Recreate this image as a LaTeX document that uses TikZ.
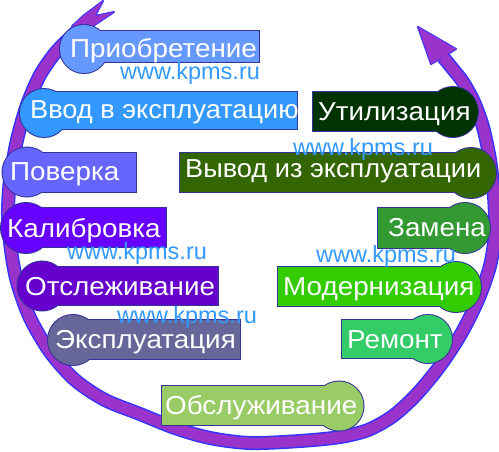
\documentclass[tikz,border=0pt]{standalone}
\usepackage{fontspec}
\setmainfont{Liberation Sans}
\newfontfamily\lblfont{Liberation Sans}[FakeStretch=1.07]
\newfontfamily\lblfontn{Liberation Sans}[FakeStretch=1.045]
\definecolor{bord}{HTML}{333399}
\definecolor{ringp}{HTML}{9933CC}
\definecolor{ringb}{HTML}{3333FF}
\definecolor{wmblue}{HTML}{3399FF}
\definecolor{cA}{HTML}{6699FF}
\definecolor{cB}{HTML}{3399FF}
\definecolor{cC}{HTML}{6666FF}
\definecolor{cD}{HTML}{6600FF}
\definecolor{cE}{HTML}{6600CC}
\definecolor{cF}{HTML}{666699}
\definecolor{cG}{HTML}{99CC66}
\definecolor{cH}{HTML}{33CC66}
\definecolor{cI}{HTML}{33CC00}
\definecolor{cJ}{HTML}{339933}
\definecolor{cK}{HTML}{336600}
\definecolor{cL}{HTML}{003300}
\newcommand\plabel[8]{%
  \draw[bord, line width=2pt] (#2,#3) rectangle (#4,#5);
  \draw[bord, line width=2pt] (#6,#7) circle[radius=#8pt];
  \fill[#1] (#2,#3) rectangle (#4,#5);
  \fill[#1] (#6,#7) circle[radius=#8pt];
}
\newcommand\ringpath{plot[smooth, tension=0.5] coordinates {(88,21) (74,34) (56,52) (40,75) (27,105) (17,140) (10,180) (8,215) (11,250) (17,282) (30,318) (50,352) (75,380) (105,400) (140,414) (175,428) (210,438) (250,443) (300,441) (340,437) (368,430) (393,416) (416,395) (440,366) (461,334) (478,300) (490,266) (495,232) (494,196) (490,160) (483,127) (474,102) (463,82) (452,68) (443,57)}}
\newcommand\tailpath{(72.2,26.1) -- (83.2,15.9) -- (103,1) -- (95,16) -- (114,12) -- (92.8,26.1) -- (81.8,36.3) -- cycle}
\newcommand\headpath{(443,57) -- (431,64) -- (418,27) -- (456,49) -- cycle}
\begin{document}
\begin{tikzpicture}[x=1pt, y=-1pt,
  lbl/.style={text=white, inner sep=0pt, anchor=base west, font=\lblfont\fontsize{26}{26}\selectfont},
  lbln/.style={lbl, font=\lblfontn\fontsize{26}{26}\selectfont},
  wm/.style={text=wmblue, inner sep=0pt, anchor=base west, font=\fontsize{23.5}{23.5}\selectfont}]
\useasboundingbox[fill=white] (0,0) rectangle (499,451);
% ring: outline layer
\draw[ringb, line width=14pt, line join=round] \ringpath;
\filldraw[ringb, line width=2pt, line join=round] \tailpath;
\filldraw[ringb, line width=2pt, line join=round] \headpath;
% ring: fill layer
\draw[ringp, line width=11pt, line join=round] \ringpath;
\fill[ringp] \tailpath;
\fill[ringp] \headpath;
% label boxes
\plabel{cA}{84}{31}{259}{62}{84}{49}{24}
\plabel{cB}{44}{92}{297}{129}{44}{113}{24}
\plabel{cC}{27}{153}{136}{192}{27}{172}{24.5}
\plabel{cD}{26}{208}{166}{247}{26}{228}{25}
\plabel{cE}{42}{267}{218}{305}{42}{286}{24.5}
\plabel{cF}{73}{320}{240}{359}{73}{340}{25}
\plabel{cG}{162}{386}{339}{425}{339}{406}{24.5}
\plabel{cH}{342}{320}{428}{358}{428}{339}{24}
\plabel{cI}{278}{267}{456}{306}{456}{287}{25}
\plabel{cJ}{378}{208}{465}{248}{465}{228}{25}
\plabel{cK}{180}{153}{471}{192}{471}{173}{25}
\plabel{cL}{313}{92}{453}{131}{453}{112}{25}
% texts
\node[lbl] (t1) at (70,57) {Приобретение};
\node[lbln] (t2) at (30,118) {Ввод в эксплуатацию};
\node[lbl] (t3) at (10,180) {Поверка};
\node[lbl] (t4) at (7,237) {Калибровка};
\node[lbl] (t5) at (25,295) {Отслеживание};
\node[lbl] (t6) at (55,348) {Эксплуатация};
\node[lbl] (t7) at (165,414) {Обслуживание};
\node[lbl] (t8) at (347,348) {Ремонт};
\node[lbl] (t9) at (283,295) {Модернизация};
\node[lbl] (t10) at (388,236) {Замена};
\node[lbln] (t11) at (185,177) {Вывод из эксплуатации};
\node[lbl] (t12) at (318,120) {Утилизация};
% watermarks
\node[wm] (w1) at (120,79) {www.kpms.ru};
\node[wm] (w2) at (293,155) {www.kpms.ru};
\node[wm] (w3) at (67,259) {www.kpms.ru};
\node[wm] (w4) at (117,323) {www.kpms.ru};
\node[wm] (w5) at (316,262) {www.kpms.ru};
\end{tikzpicture}
\end{document}
